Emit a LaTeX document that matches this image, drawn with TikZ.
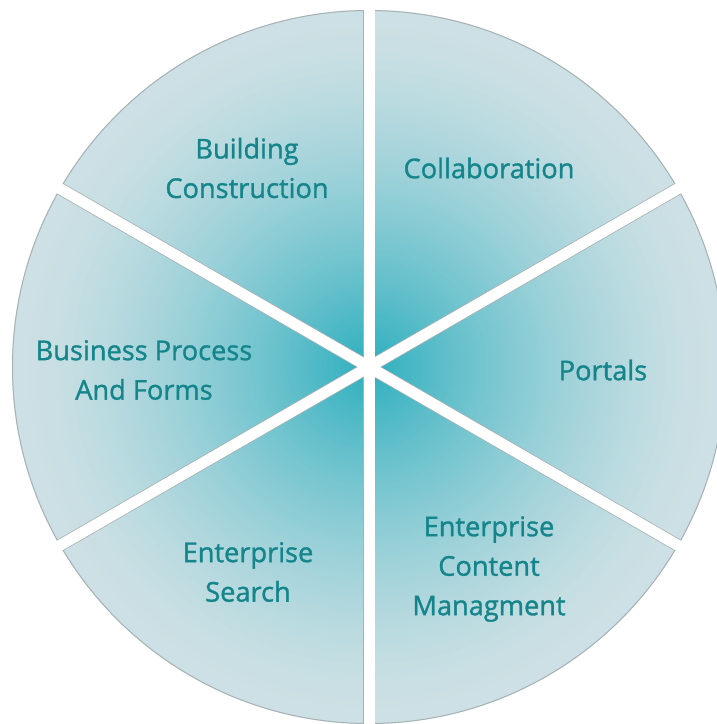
\documentclass[tikz,border=0pt]{standalone}
\usepackage{fontspec}
\setmainfont{Open Sans}[FakeBold=1.2,UprightFeatures={FakeBold=1.2}]
\definecolor{cCenter}{RGB}{46,175,190}
\definecolor{cEdge}{RGB}{207,225,229}
\definecolor{rimgray}{RGB}{168,178,180}
\definecolor{labelteal}{RGB}{20,133,139}
\tikzset{
  lbl/.style={text=labelteal, align=center, font=\fontsize{27.2}{39.5}\selectfont},
  gapedge/.style={draw=rimgray, line width=12.6pt},
  gapband/.style={draw=white, line width=11pt},
}
\begin{document}
\begin{tikzpicture}[x=1pt,y=-1pt]
\useasboundingbox (0,0) rectangle (716,724);
\fill[white] (0,0) rectangle (716,724);
\coordinate (c) at (369,367);
\foreach \i in {100,99,...,1}{
  \pgfmathsetmacro\myu{1-(\i-0.5)/100}
  \pgfmathtruncatemacro\myf{100*(1-\myu*sqrt(\myu))}
  \fill[cEdge!\myf!cCenter] (c) circle ({3.57*\i});
}
\draw[rimgray, line width=1pt] (c) circle (356.5);
\begin{scope}
  \clip (c) circle (357);
  \foreach \a in {90,30,150}{
    \draw[gapedge] (c) ++(\a:420) -- ++(\a+180:840);
  }
\end{scope}
\foreach \a in {90,30,150}{
  \draw[gapband] (c) ++(\a:420) -- ++(\a+180:840);
}
\node[lbl] (bc) at (247,168) {Building\\Construction};
\node[lbl] (col) at (489,168) {Collaboration};
\node[lbl] (bpf) at (144,370) {Business Process\\And Forms};
\node[lbl] (por) at (603,370) {Portals};
\node[lbl] (es) at (248,572) {Enterprise\\Search};
\node[lbl] (ecm) at (489,569) {Enterprise\\Content\\Managment};
\end{tikzpicture}
\end{document}
